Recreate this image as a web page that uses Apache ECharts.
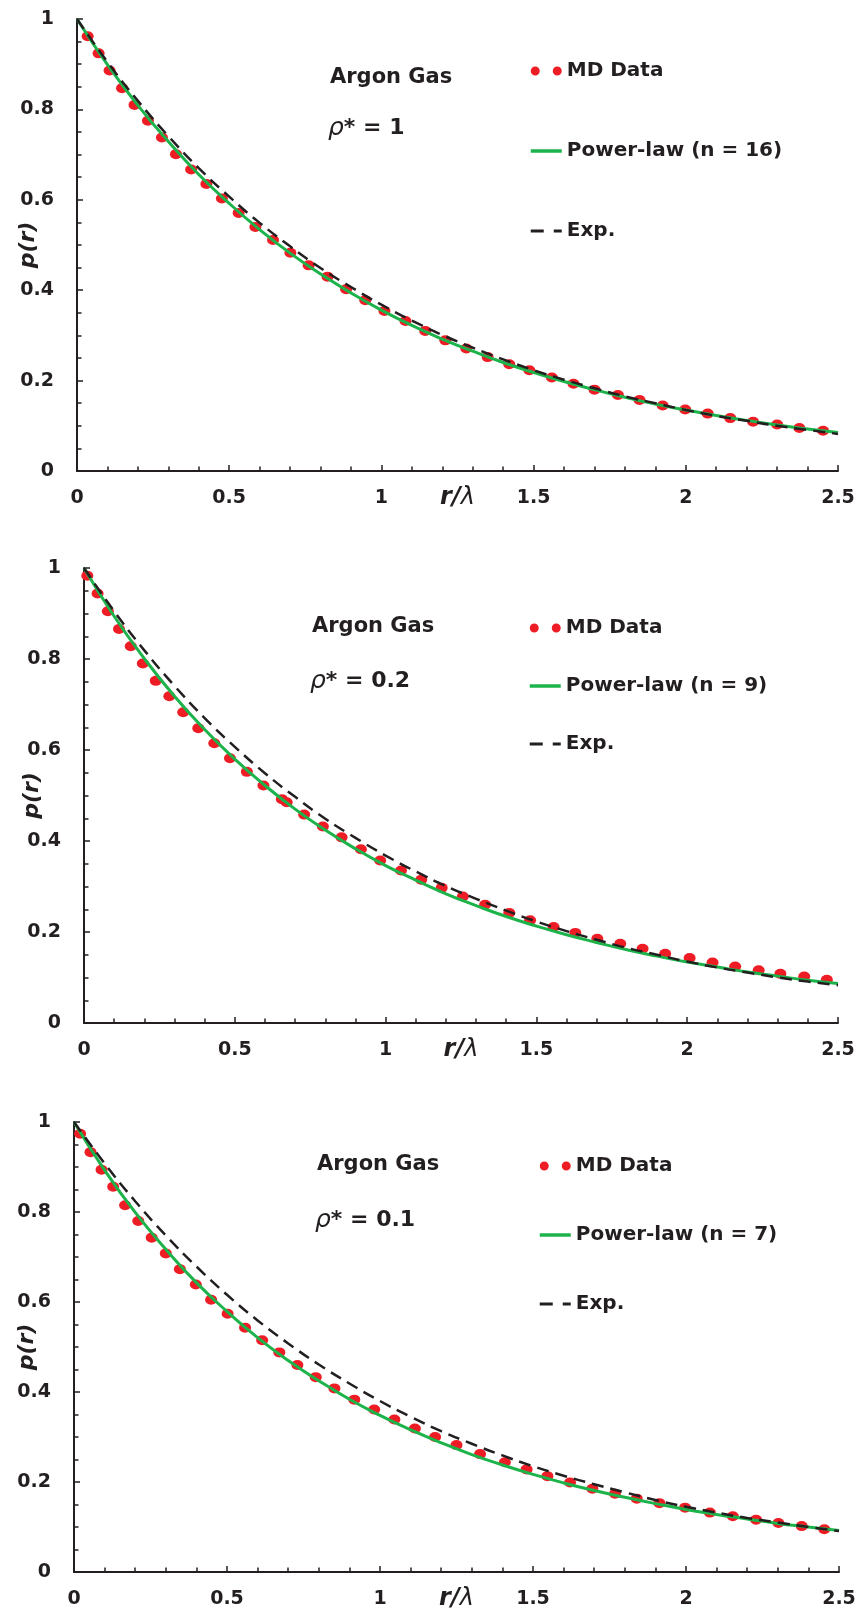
<!DOCTYPE html>
<html>
<head>
<meta charset="utf-8">
<script src="https://cdn.jsdelivr.net/npm/echarts@6/dist/echarts.min.js"></script>
<style>
html, body { margin: 0; padding: 0; background: #fff; }
#main { width: 860px; height: 1623px; }
</style>
</head>
<body>
<div id="main"></div>
<script>
// r/lambda positions where the fitted curves were read
var rGrid = [0, 0.1, 0.2, 0.3, 0.4, 0.5, 0.6, 0.7, 0.8, 0.9, 1.0, 1.1, 1.2, 1.3,
    1.4, 1.5, 1.6, 1.7, 1.8, 1.9, 2.0, 2.1, 2.2, 2.3, 2.4, 2.5];

// rho* = 1
var md1 = [[0.035,0.962],[0.071,0.924],[0.107,0.886],[0.148,0.847],[0.189,0.810],[0.233,0.775],
    [0.279,0.738],[0.325,0.701],[0.375,0.667],[0.425,0.635],[0.476,0.603],[0.531,0.571],[0.586,0.540],
    [0.644,0.511],[0.701,0.483],[0.761,0.455],[0.823,0.430],[0.884,0.402],[0.947,0.378],[1.010,0.354],
    [1.079,0.332],[1.144,0.310],[1.210,0.289],[1.279,0.271],[1.349,0.252],[1.420,0.236],[1.486,0.223],
    [1.560,0.207],[1.631,0.193],[1.700,0.180],[1.777,0.168],[1.848,0.157],[1.924,0.145],[1.998,0.136],
    [2.072,0.127],[2.146,0.117],[2.221,0.109],[2.300,0.103],[2.373,0.095],[2.451,0.089]];
var fit1 = [1,0.899,0.809,0.729,0.656,0.592,0.534,0.482,0.436,0.394,0.356,0.322,0.292,0.265,0.240,
    0.218,0.198,0.180,0.163,0.148,0.135,0.123,0.112,0.102,0.093,0.085];
var exp1 = [1,0.905,0.819,0.741,0.670,0.607,0.549,0.497,0.449,0.407,0.368,0.333,0.301,0.273,0.247,
    0.223,0.202,0.183,0.165,0.150,0.135,0.122,0.111,0.100,0.091,0.082];

// rho* = 0.2
var md2 = [[0.011,0.983],[0.045,0.944],[0.079,0.905],[0.116,0.866],[0.155,0.828],[0.195,0.790],
    [0.238,0.752],[0.283,0.718],[0.329,0.683],[0.379,0.648],[0.432,0.615],[0.484,0.582],[0.540,0.552],
    [0.595,0.522],[0.656,0.492],[0.672,0.485],[0.730,0.458],[0.792,0.432],[0.854,0.408],[0.918,0.382],
    [0.982,0.357],[1.051,0.335],[1.118,0.315],[1.186,0.297],[1.256,0.278],[1.330,0.260],[1.410,0.242],
    [1.479,0.226],[1.557,0.211],[1.629,0.198],[1.702,0.185],[1.778,0.174],[1.852,0.163],[1.927,0.152],
    [2.008,0.143],[2.084,0.133],[2.159,0.124],[2.237,0.116],[2.309,0.108],[2.388,0.102],[2.463,0.095]];
var fit2 = [1,0.894,0.801,0.718,0.645,0.580,0.522,0.470,0.424,0.383,0.346,0.314,0.284,0.258,0.234,
    0.213,0.194,0.177,0.161,0.147,0.134,0.123,0.112,0.103,0.094,0.087];
var exp2 = [1,0.905,0.819,0.741,0.670,0.607,0.549,0.497,0.449,0.407,0.368,0.333,0.301,0.273,0.247,
    0.223,0.202,0.183,0.165,0.150,0.135,0.122,0.111,0.100,0.091,0.083];

// rho* = 0.1
var md3 = [[0.020,0.974],[0.054,0.933],[0.090,0.894],[0.128,0.856],[0.167,0.815],[0.210,0.780],
    [0.254,0.743],[0.300,0.708],[0.346,0.673],[0.398,0.639],[0.448,0.605],[0.502,0.574],[0.559,0.543],
    [0.615,0.515],[0.671,0.488],[0.730,0.460],[0.790,0.433],[0.851,0.408],[0.916,0.383],[0.981,0.361],
    [1.047,0.339],[1.114,0.319],[1.180,0.300],[1.250,0.282],[1.327,0.262],[1.408,0.244],[1.479,0.228],
    [1.547,0.213],[1.621,0.199],[1.694,0.185],[1.768,0.174],[1.839,0.163],[1.913,0.153],[1.997,0.143],
    [2.078,0.132],[2.153,0.124],[2.229,0.116],[2.302,0.109],[2.378,0.102],[2.452,0.095]];
var fit3 = [1,0.893,0.799,0.717,0.643,0.579,0.521,0.470,0.425,0.384,0.348,0.316,0.287,0.261,0.238,
    0.217,0.198,0.181,0.166,0.152,0.139,0.128,0.118,0.108,0.100,0.092];
var exp3 = [1,0.908,0.824,0.748,0.679,0.616,0.559,0.508,0.461,0.419,0.380,0.345,0.313,0.285,0.259,
    0.235,0.214,0.195,0.177,0.160,0.145,0.132,0.120,0.110,0.100,0.091];

var fitNames = ['Power-law (n = 16)', 'Power-law (n = 9)', 'Power-law (n = 7)'];
var rhoLabels = ['1', '0.2', '0.1'];

var INK = '#231f20';
var RED = '#ee1c25';
var GREEN = '#1db34b';
var FONT = 'DejaVu Sans';

var panels = [
    { grid: { left: 77, top: 19, width: 761, height: 452 }, md: md1, fit: fit1, exp: exp1,
      gas: [330, 67], rho: [328, 116], leg: [529, 61, 60], yGap: 38 },
    { grid: { left: 84, top: 568, width: 754, height: 455 }, md: md2, fit: fit2, exp: exp2,
      gas: [312, 616], rho: [310, 669], leg: [528, 618, 38], yGap: 41 },
    { grid: { left: 74, top: 1122, width: 765, height: 450 }, md: md3, fit: fit3, exp: exp3,
      gas: [317, 1154], rho: [315, 1208], leg: [538, 1156, 49], yGap: 36 }
];

function pairs(vals) {
    return rGrid.map(function (r, i) { return [r, vals[i]]; });
}

var grids = [], xAxes = [], yAxes = [], series = [], legends = [], titles = [];

panels.forEach(function (p, k) {
    grids.push(Object.assign({ outerBoundsMode: 'none', containLabel: false }, p.grid));

    xAxes.push({
        gridIndex: k, type: 'value', min: 0, max: 2.5, interval: 0.5,
        name: '{a|r/}{b|λ}', nameLocation: 'middle', nameGap: 15, nameMoveOverlap: false,
        nameTextStyle: { rich: {
            a: { fontFamily: FONT, fontStyle: 'italic', fontWeight: 'bold', fontSize: 24, color: INK },
            b: { fontFamily: FONT, fontStyle: 'italic', fontWeight: 'normal', fontSize: 24, color: INK }
        } },
        axisLine: { show: true, onZero: false, lineStyle: { color: INK, width: 2 } },
        axisTick: { show: true, inside: true, length: 6, lineStyle: { color: INK, width: 1.5 } },
        minorTick: { show: true, splitNumber: 5, length: 4.5, lineStyle: { color: INK, width: 1.5 } },
        splitLine: { show: false },
        axisLabel: { margin: 18, fontFamily: FONT, fontWeight: 'bold', fontSize: 19, color: INK }
    });

    yAxes.push({
        gridIndex: k, type: 'value', min: 0, max: 1, interval: 0.2,
        name: 'p(r)', nameLocation: 'middle', nameGap: p.yGap, nameRotate: 90, nameMoveOverlap: false,
        nameTextStyle: { fontFamily: FONT, fontStyle: 'italic', fontWeight: 'bold', fontSize: 22, color: INK },
        axisLine: { show: true, onZero: false, lineStyle: { color: INK, width: 2 } },
        axisTick: { show: true, inside: true, length: 6, lineStyle: { color: INK, width: 1.5 } },
        minorTick: { show: true, splitNumber: 4, length: 4.5, lineStyle: { color: INK, width: 1.5 } },
        splitLine: { show: false },
        axisLabel: { margin: 23, fontFamily: FONT, fontWeight: 'bold', fontSize: 19, color: INK }
    });

    series.push({
        name: 'MD Data', type: 'scatter', xAxisIndex: k, yAxisIndex: k,
        data: p.md, symbol: 'circle', symbolSize: [12, 10],
        itemStyle: { color: RED, opacity: 1 }, z: 2, silent: true
    });
    series.push({
        name: fitNames[k], type: 'line', xAxisIndex: k, yAxisIndex: k,
        data: pairs(p.fit), smooth: true, symbol: 'none',
        lineStyle: { color: GREEN, width: 3 }, itemStyle: { color: GREEN }, z: 3, silent: true
    });
    series.push({
        name: 'Exp.', type: 'line', xAxisIndex: k, yAxisIndex: k,
        data: pairs(p.exp), smooth: true, symbol: 'none',
        lineStyle: { color: INK, width: 2.5, type: [12, 7] }, itemStyle: { color: INK }, z: 4, silent: true
    });

    legends.push({
        orient: 'vertical', left: p.leg[0], top: p.leg[1], itemGap: p.leg[2], padding: 0,
        itemWidth: 31, itemHeight: 9, selectedMode: false,
        textStyle: { fontFamily: FONT, fontWeight: 'bold', fontSize: 20, lineHeight: 20, color: INK },
        data: [
            { name: 'MD Data', icon: 'path://M0,4.5A4.5,4.5,0,1,1,9,4.5A4.5,4.5,0,1,1,0,4.5ZM22,4.5A4.5,4.5,0,1,1,31,4.5A4.5,4.5,0,1,1,22,4.5Z' },
            { name: fitNames[k], itemStyle: { opacity: 0 },
              lineStyle: { color: GREEN, width: 3.5, type: 'solid' } },
            { name: 'Exp.', itemStyle: { opacity: 0 },
              lineStyle: { color: INK, width: 3, type: [13, 10] } }
        ]
    });

    titles.push({
        text: 'Argon Gas', left: p.gas[0], top: p.gas[1], padding: 0,
        textStyle: { fontFamily: FONT, fontWeight: 'bold', fontSize: 21, color: INK }
    });
    titles.push({
        text: '{a|ρ}{b|* = ' + rhoLabels[k] + '}', left: p.rho[0], top: p.rho[1], padding: 0,
        textStyle: { rich: {
            a: { fontFamily: FONT, fontStyle: 'italic', fontWeight: 'normal', fontSize: 25, color: INK },
            b: { fontFamily: FONT, fontWeight: 'bold', fontSize: 22, color: INK }
        } }
    });
});

var chart = echarts.init(document.getElementById('main'), null, { renderer: 'canvas' });
chart.setOption({
    animation: false,
    backgroundColor: '#ffffff',
    title: titles,
    legend: legends,
    grid: grids,
    xAxis: xAxes,
    yAxis: yAxes,
    series: series
});
</script>
</body>
</html>
